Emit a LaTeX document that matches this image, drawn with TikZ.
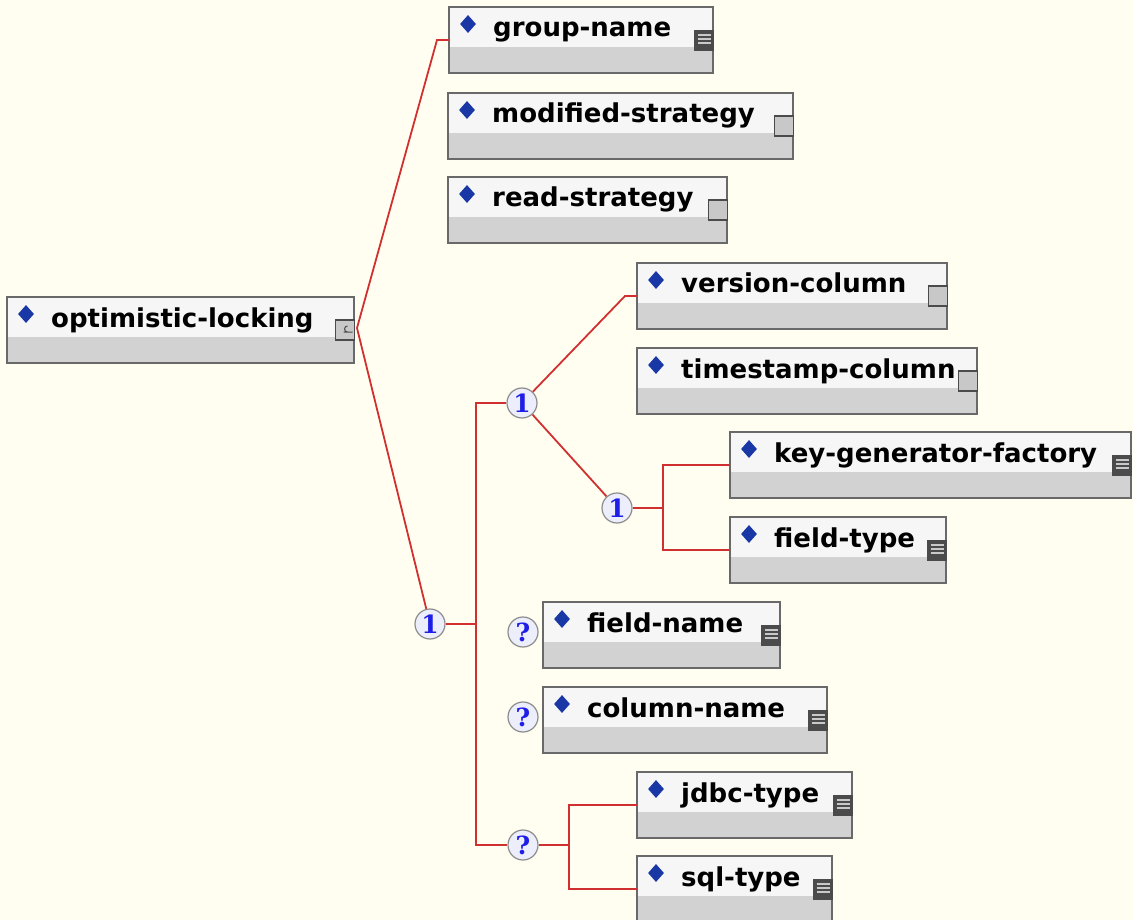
\documentclass[tikz,border=0pt]{standalone}
\usepackage{fontspec}
\setmainfont{DejaVu Sans}
\newfontfamily\circfont{DejaVu Serif}
\usetikzlibrary{shapes.geometric}
\definecolor{bg}{RGB}{255,254,240}
\definecolor{conn}{RGB}{208,48,48}
\definecolor{bordergray}{RGB}{105,105,105}
\definecolor{topfill}{RGB}{246,246,246}
\definecolor{barfill}{RGB}{210,210,210}
\definecolor{diamblue}{RGB}{25,55,165}
\definecolor{numblue}{RGB}{30,30,230}
\definecolor{circfill}{RGB}{236,238,252}
\definecolor{circline}{RGB}{140,140,140}
\definecolor{icondark}{RGB}{75,75,75}
\definecolor{iconlight}{RGB}{200,200,200}
\tikzset{
  box/.style={rectangle, draw=bordergray, line width=1.6pt, fill=topfill, inner sep=0pt, outer sep=0pt, minimum height=66pt,
    path picture={\fill[barfill] (path picture bounding box.south west) rectangle ([yshift=26pt]path picture bounding box.south east);}},
  diam/.style={diamond, fill=diamblue, inner sep=0pt, minimum width=16pt, minimum height=18pt},
  lbl/.style={font=\bfseries\fontsize{26}{26}\selectfont, inner sep=0pt, text=black},
  iconbase/.style={rectangle, inner sep=0pt, outer sep=0pt, minimum width=19pt, minimum height=20pt},
  iconlines/.style={iconbase, fill=icondark, draw=icondark, line width=0.8pt,
    path picture={\foreach \k in {5,9,13} \draw[white!70!icondark, line width=1.5pt] ([xshift=3pt,yshift=-\k pt]path picture bounding box.north west) -- ([xshift=-3pt,yshift=-\k pt]path picture bounding box.north east);}},
  iconempty/.style={iconbase, fill=iconlight, draw=icondark, line width=1.2pt},
  iconroot/.style={iconbase, fill=iconlight, draw=icondark, line width=1.2pt,
    path picture={\draw[icondark, line width=1pt] ([xshift=12pt,yshift=-6pt]path picture bounding box.north west) arc (90:270:3pt and 3pt) -- ++(5pt,0pt) ([xshift=8pt,yshift=-12pt]path picture bounding box.north west) -- ++(4pt,0pt);}},
  circ/.style={circle, minimum size=30pt, inner sep=0pt, fill=circfill, draw=circline, line width=1.2pt, text=numblue, font=\circfont\bfseries\fontsize{25}{25}\selectfont},
  link/.style={draw=conn, line width=1.8pt}
}
\newcommand{\elem}[6]{%
  \node[box, minimum width={#4pt-#2pt}] (#1) at ({(#2+#4)/2},{#3+33}) {};
  \node[diam] (#1-d) at ({#2+19},{#3+17}) {};
  \node[lbl, anchor=base west] (#1-t) at ({#2+44},{#3+30}) {#5};
  \node[icon#6] (#1-i) at ({#4-9},{#3+33}) {};
}
\begin{document}
\begin{tikzpicture}[x=1pt, y=-1pt]
\useasboundingbox (0,0) rectangle (1133,920);
\fill[bg] (0,0) rectangle (1133,920);
\elem{gn}{449}{7}{713}{group-name}{lines}
\elem{ms}{448}{93}{793}{modified-strategy}{empty}
\elem{rs}{448}{177}{727}{read-strategy}{empty}
\elem{root}{7}{297}{354}{optimistic-locking}{root}
\elem{vc}{637}{263}{947}{version-column}{empty}
\elem{tc}{637}{348}{977}{timestamp-column}{empty}
\elem{kg}{730}{432}{1131}{key-generator-factory}{lines}
\elem{ft}{730}{517}{946}{field-type}{lines}
\elem{fn}{543}{602}{780}{field-name}{lines}
\elem{cn}{543}{687}{827}{column-name}{lines}
\elem{jd}{637}{772}{852}{jdbc-type}{lines}
\elem{sq}{637}{856}{832}{sql-type}{lines}
\node[circ] (c1main) at (430,624) {1};
\node[circ] (c1top) at (522,403) {1};
\node[circ] (c1sub) at (617,508) {1};
\node[circ] (q1) at (523,632) {?};
\node[circ] (q2) at (523,717) {?};
\node[circ] (q3) at (523,845) {?};
\coordinate (hub) at (357,328);
\coordinate (j1) at (476,624);
\coordinate (j2) at (663,508);
\coordinate (j3) at (569,845);
\draw[link] (hub) -- ([xshift=-12pt]gn.west) -- (gn.west);
\draw[link] (hub) -- (c1main);
\draw[link] (c1main.east) -- (j1);
\draw[link] (c1top.west) -| (j1) |- (q3.west);
\draw[link] (c1top) -- ([xshift=-12pt]vc.west) -- (vc.west);
\draw[link] (c1top) -- (c1sub);
\draw[link] (c1sub.east) -- (j2);
\draw[link] (kg.west) -| (j2) |- (ft.west);
\draw[link] (q3.east) -- (j3);
\draw[link] (jd.west) -| (j3) |- (sq.west);
\end{tikzpicture}
\end{document}
